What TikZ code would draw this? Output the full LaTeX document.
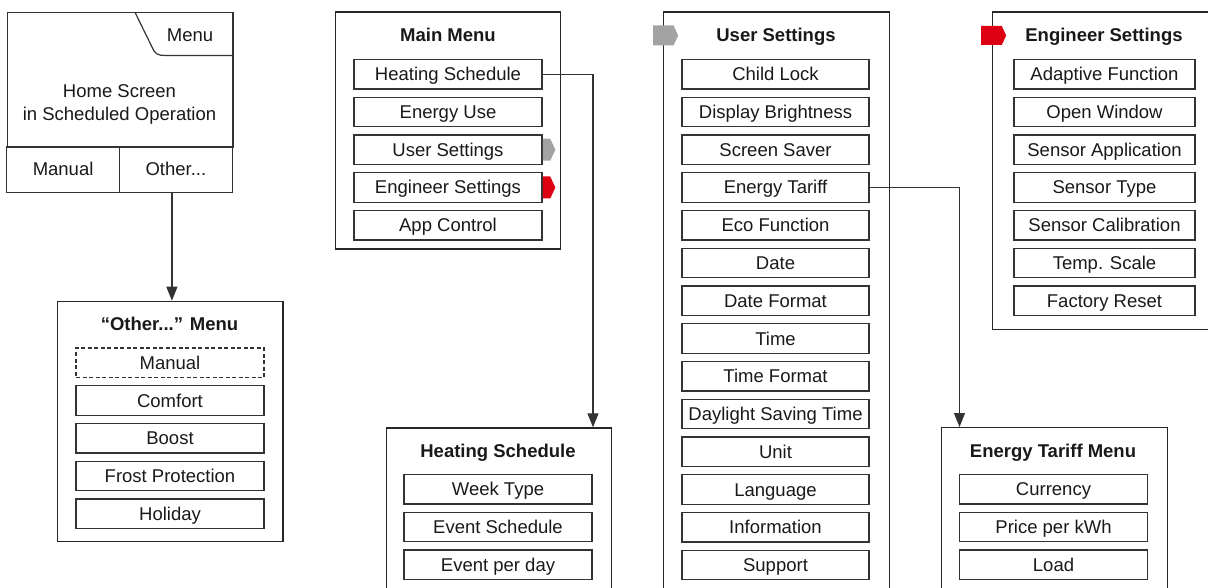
\documentclass[tikz,border=0pt]{standalone}
\usepackage{fontspec}
\setmainfont{Liberation Sans}
\usetikzlibrary{arrows.meta,shapes.symbols}

\definecolor{linegray}{HTML}{333333}
\definecolor{markgray}{HTML}{A3A3A3}
\definecolor{markred}{HTML}{DC0012}

\tikzset{
  panel/.style={draw=black!85, line width=1.3pt, anchor=north west, inner sep=0pt},
  item/.style={draw=linegray, line width=1.3pt, minimum width=188pt, minimum height=29.5pt, inner sep=0pt,
    text height=13pt, text depth=0pt},
  cell/.style={draw=linegray, line width=1.2pt, minimum width=112.8pt, minimum height=45.6pt, inner sep=0pt,
    text height=13pt, text depth=0pt},
  title/.style={font=\fontsize{18.5}{23}\selectfont\bfseries, text height=13pt, text depth=0pt},
  marker/.style={signal, signal to=east, signal pointer angle=130, inner sep=0pt, anchor=west},
  arr/.style={-{Triangle[width=11pt,length=14pt]}, line width=1.2pt, draw=linegray}
}

\begin{document}
\begin{tikzpicture}[x=1pt, y=-1pt, font=\fontsize{18.5}{23}\selectfont, text=black!90]
  \clip (0,0) rectangle (1208,588);

  % 主屏幕
  \node[draw=linegray, line width=1.2pt, anchor=north west, minimum width=225.6pt, minimum height=135pt, inner sep=0pt] (home) at (6.7,12.3) {};
  \node[cell] (manual) at (63.1,169.5) {Manual};
  \node[cell] (other) at (175.9,169.5) {Other...};
  \draw[linegray, line width=1.2pt] (135,12.3) -- (152,47) .. controls (155,54) and (158,55.5) .. (165,55.5) -- (home.east |- 0,55.5);
  \node[text height=13pt, text depth=0pt] (menu) at (190,35) {Menu};
  \node[align=center] (hometext) at (119.5,104) {Home Screen\\in Scheduled Operation};

  % “Other...” 菜单
  \node[panel, minimum width=225.6pt, minimum height=240pt] (om) at (56.7,300.7) {};
  \node[title] (omt) at (169.5,323.5) {“Other...” Menu};
  \node[item, dash pattern=on 4pt off 2.5pt] (om1) at (170,362.75) {Manual};
  \foreach \t [count=\i from 2] in {Comfort,Boost,Frost Protection,Holiday}
    \node[item] (om\i) at (170,{325+37.75*\i}) {\t};

  % 主菜单
  \node[panel, minimum width=225pt, minimum height=237pt] (mm) at (335,11.5) {};
  \node[title] (mmt) at (448,35) {Main Menu};
  \foreach \t [count=\i] in {Heating Schedule,Energy Use,User Settings,Engineer Settings,App Control}
    \node[item] (mm\i) at (448,{36.5+37.75*\i}) {\t};
  \node[marker, fill=markgray, minimum width=12.5pt, minimum height=22pt] (mkus) at (mm3.east) {};
  \node[marker, fill=markred, minimum width=12.5pt, minimum height=22pt] (mkes) at (mm4.east) {};

  % 加热计划
  \node[panel, minimum width=225.5pt, minimum height=200pt] (hsp) at (385.5,427.3) {};
  \node[title] (hst) at (498,451) {Heating Schedule};
  \foreach \t [count=\i] in {Week Type,Event Schedule,Event per day}
    \node[item] (hs\i) at (498,{451.5+37.75*\i}) {\t};

  % 用户设置
  \node[panel, minimum width=226pt, minimum height=600pt] (usp) at (663,11.5) {};
  \node[title] (ust) at (776,35) {User Settings};
  \foreach \t [count=\i] in {Child Lock,Display Brightness,Screen Saver,Energy Tariff,Eco Function,Date,Date Format,Time,Time Format,Daylight Saving Time,Unit,Language,Information,Support}
    \node[item, minimum width=187pt] (us\i) at (775.5,{36.5+37.75*\i}) {\t};
  \node[marker, fill=markgray, minimum width=25pt, minimum height=20pt] (mkust) at (653,35.5) {};

  % 工程师设置
  \node[panel, minimum width=240pt, minimum height=317pt] (esp) at (992,11.5) {};
  \node[title] (est) at (1104,35) {Engineer Settings};
  \foreach \t [count=\i] in {Adaptive Function,Open Window,Sensor Application,Sensor Type,Sensor Calibration,Temp. Scale,Factory Reset}
    \node[item, minimum width=181pt] (es\i) at (1104.5,{36.5+37.75*\i}) {\t};
  \node[marker, fill=markred, minimum width=25pt, minimum height=19pt] (mkest) at (981,35.5) {};

  % 电价菜单
  \node[panel, minimum width=226pt, minimum height=200pt] (etp) at (941,427) {};
  \node[title] (ett) at (1053,451) {Energy Tariff Menu};
  \foreach \t [count=\i] in {Currency,Price per kWh,Load}
    \node[item] (et\i) at (1053.5,{451.5+37.75*\i}) {\t};

  % 连线
  \draw[arr] ([xshift=-4pt]other.south) -- ([xshift=-4pt]other.south |- om.north);
  \draw[arr] (mm1.east) -| ([xshift=207.5pt]hsp.north west);
  \draw[arr] (us4.east) -| ([xshift=18.5pt]etp.north west);
\end{tikzpicture}
\end{document}
